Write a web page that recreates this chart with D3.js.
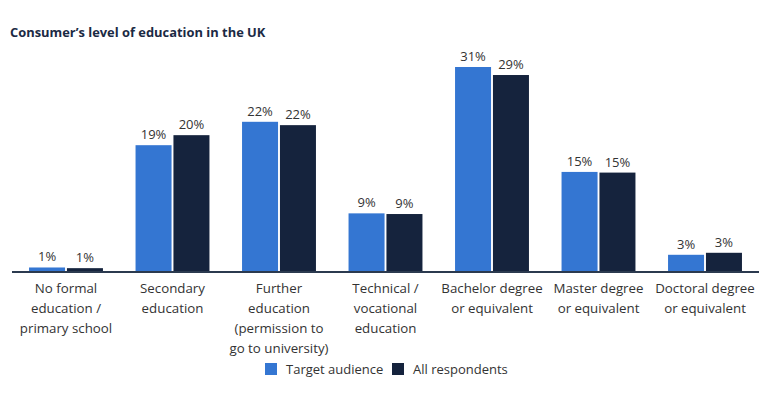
<!DOCTYPE html>
<html>
<head>
<meta charset="utf-8">
<script src="https://cdn.jsdelivr.net/npm/d3@7"></script>
<style>
  body { margin: 0; background: #fff; }
  svg { font-family: "Open Sans", "Noto Sans", sans-serif; }
</style>
</head>
<body>
<svg id="chart" width="768" height="397"></svg>
<script>
// chart data
var categories = [
    ["No formal", "education /", "primary school"],
    ["Secondary", "education"],
    ["Further", "education", "(permission to", "go to university)"],
    ["Technical /", "vocational", "education"],
    ["Bachelor degree", "or equivalent"],
    ["Master degree", "or equivalent"],
    ["Doctoral degree", "or equivalent"]
];
var seriesNames = ["Target audience", "All respondents"];
var targetAudience = [0.6, 18.9, 22.4, 8.7, 30.6, 14.9, 2.5];
var allRespondents = [0.5, 20.4, 21.9, 8.6, 29.4, 14.8, 2.8];
var seriesColors = ["#3476d2", "#15233d"];

var svg = d3.select("#chart");
var baseline = 271.5;

svg.append("text")
    .attr("x", 10)
    .attr("y", 37)
    .attr("font-size", 12.9)
    .attr("font-weight", 700)
    .attr("fill", "#1b2a44")
    .text("Consumer\u2019s level of education in the UK");

var x0 = d3.scaleBand()
    .domain(d3.range(categories.length))
    .range([12, 759])
    .paddingInner(0.306)
    .paddingOuter(0.16);

var x1 = d3.scaleBand()
    .domain([0, 1])
    .range([0, x0.bandwidth()])
    .paddingInner(0.05);

var y = d3.scaleLinear()
    .domain([0, 30.6])
    .range([baseline, baseline - 204.5]);

var rows = categories.map(function(c, i) {
    return { i: i, vals: [targetAudience[i], allRespondents[i]] };
});

var groups = svg.selectAll("g.grp")
    .data(rows)
    .enter().append("g")
    .attr("class", "grp")
    .attr("transform", function(d) { return "translate(" + x0(d.i) + ",0)"; });

groups.selectAll("rect")
    .data(function(d) { return d.vals.map(function(v, s) { return { v: v, s: s }; }); })
    .enter().append("rect")
    .attr("x", function(d) { return x1(d.s); })
    .attr("y", function(d) { return y(d.v); })
    .attr("width", x1.bandwidth())
    .attr("height", function(d) { return baseline - y(d.v); })
    .attr("fill", function(d) { return seriesColors[d.s]; });

groups.selectAll("text.val")
    .data(function(d) { return d.vals.map(function(v, s) { return { v: v, s: s }; }); })
    .enter().append("text")
    .attr("class", "val")
    .attr("x", function(d) { return x1(d.s) + x1.bandwidth() / 2; })
    .attr("y", function(d) { return y(d.v) - 6; })
    .attr("text-anchor", "middle")
    .attr("font-size", 13)
    .attr("fill", "#333")
    .text(function(d) { return Math.round(d.v) + "%"; });

// axis baseline
svg.append("line")
    .attr("x1", 12).attr("x2", 759)
    .attr("y1", baseline + 0.5).attr("y2", baseline + 0.5)
    .attr("stroke", "#2b3a4f")
    .attr("stroke-width", 2);

// category labels
var labels = svg.selectAll("text.cat")
    .data(categories)
    .enter().append("text")
    .attr("class", "cat")
    .attr("text-anchor", "middle")
    .attr("font-size", 13.3)
    .attr("fill", "#333")
    .attr("transform", function(d, i) { return "translate(" + (x0(i) + x0.bandwidth() / 2) + ",293)"; });

labels.selectAll("tspan")
    .data(function(d) { return d; })
    .enter().append("tspan")
    .attr("x", 0)
    .attr("y", function(d, j) { return j * 20; })
    .text(function(d) { return d; });

// legend
var legendX = [265, 392];
var legend = svg.selectAll("g.leg")
    .data(seriesNames)
    .enter().append("g")
    .attr("class", "leg")
    .attr("transform", function(d, i) { return "translate(" + legendX[i] + ",363)"; });

legend.append("rect")
    .attr("width", 12).attr("height", 12)
    .attr("fill", function(d, i) { return seriesColors[i]; });

legend.append("text")
    .attr("x", 21)
    .attr("y", 11)
    .attr("font-size", 13)
    .attr("fill", "#333")
    .text(function(d) { return d; });
</script>
</body>
</html>
